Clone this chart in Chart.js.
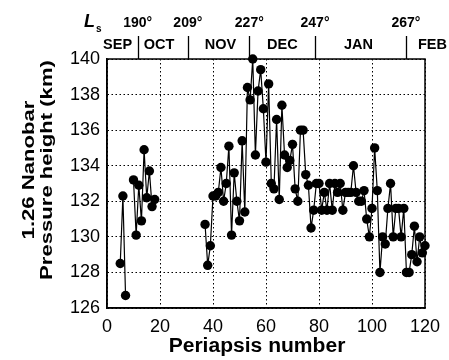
<!DOCTYPE html>
<html>
<head>
<meta charset="utf-8">
<script src="https://cdn.jsdelivr.net/npm/chart.js@4"></script>
<style>
  body { margin: 0; background: #fff; }
  #wrap { width: 449px; height: 360px; position: relative; }
</style>
</head>
<body>
<div id="wrap"><canvas id="myChart"></canvas></div>
<script>
// periapsis number / 1.26 nanobar pressure height (km); null = no data (breaks the line)
const periapsis = [5, 6, 7, 8,
  10, 11, 12, 13, 14, 15, 16, 17, 18, 19,
  37, 38, 39, 40, 41, 42, 43, 44, 45, 46, 47, 48, 49, 50, 51, 52, 53, 54, 55, 56,
  57, 58, 59, 60, 61, 62, 63, 64, 65, 66, 67, 68, 69, 70, 71, 72, 73, 74, 75, 76,
  77, 78, 79, 80, 81, 82, 83, 84, 85, 86, 87, 88, 89, 90, 91, 92, 93, 94, 95, 96,
  97, 98, 99, 100, 101, 102, 103, 104, 105, 106, 107, 108, 109, 110, 111, 112,
  113, 114, 115, 116, 117, 118, 119, 120];
const heights = [128.5, 132.3, 126.7, null,
  133.2, 130.1, 132.9, 130.9, 134.9, 132.2, 133.7, 131.7, 132.1, null,
  130.7, 128.4, 129.5, 132.3, 132.3, 132.5, 133.9, 132.0, 133.0, 135.1, 130.1, 133.6, 132.0, 130.9, 135.4, 131.4, 138.4, 137.7, 140.0, 134.6,
  138.2, 139.4, 137.2, 134.2, 138.6, 133.0, 132.7, 136.6, 132.1, 137.4, 134.6, 133.9, 134.3, 135.2, 132.7, 132.0, 136.0, 136.0, 133.5, 132.9,
  130.5, 131.5, 133.0, 133.0, 131.5, 132.5, 131.5, 133.0, 131.5, 133.0, 132.5, 133.0, 131.5, 132.5, 132.5, 132.5, 134.0, 132.5, 132.0, 132.0,
  132.6, 131.0, 130.0, 131.6, 135.0, 132.6, 128.0, 130.0, 129.6, 131.6, 133.0, 130.0, 131.6, 131.6, 130.0, 131.6,
  128.0, 128.0, 129.0, 130.6, 128.6, 130.0, 129.1, 129.5];

// top band: solar longitude at month boundaries, month names
const lsLabels = ['190°', '209°', '227°', '247°', '267°'];
const monthBounds = [11.6, 30.5, 53.7, 78.5, 112.8];
const monthNames = ['SEP', 'OCT', 'NOV', 'DEC', 'JAN', 'FEB'];
const monthCenters = [4.0, 19.6, 42.8, 66.2, 94.9, 122.8];

const xTitle = 'Periapsis number';
const yTitle = ['1.26 Nanobar', 'Pressure height (km)'];

const FONT = 'Liberation Sans, Arial, sans-serif';

const points = periapsis.map((p, i) => ({x: p, y: heights[i]}));

const decorations = {
  id: 'decorations',
  afterDraw(chart) {
    const ctx = chart.ctx;
    const area = chart.chartArea;
    const xs = chart.scales.x;
    ctx.save();
    // plot box
    ctx.strokeStyle = '#000';
    ctx.lineWidth = 1.5;
    ctx.strokeRect(area.left, area.top, area.right - area.left, area.bottom - area.top);

    // month separators
    ctx.lineWidth = 1.3;
    monthBounds.forEach(b => {
      const px = Math.round(xs.getPixelForValue(b)) + 0.5;
      ctx.beginPath();
      ctx.moveTo(px, 36);
      ctx.lineTo(px, area.top);
      ctx.stroke();
    });

    ctx.fillStyle = '#000';
    ctx.textAlign = 'center';
    ctx.textBaseline = 'middle';
    ctx.font = 'bold 14px ' + FONT;
    lsLabels.forEach((t, i) => {
      ctx.fillText(t, xs.getPixelForValue(monthBounds[i]), 23);
    });
    ctx.font = 'bold 14.5px ' + FONT;
    monthNames.forEach((t, i) => {
      ctx.fillText(t, xs.getPixelForValue(monthCenters[i]), 45);
    });

    // L with subscript s
    ctx.textAlign = 'left';
    ctx.font = 'italic bold 18px ' + FONT;
    ctx.fillText('L', 84, 22);
    ctx.font = 'bold 10px ' + FONT;
    ctx.fillText('s', 96, 29);

    // x title (stretched like the scanned original)
    ctx.save();
    ctx.translate(257, 347);
    ctx.scale(1.08, 1);
    ctx.textAlign = 'center';
    ctx.font = 'bold 19.5px ' + FONT;
    ctx.fillText(xTitle, 0, 0);
    ctx.restore();

    // y title, two lines
    ctx.save();
    ctx.textAlign = 'center';
    ctx.font = 'bold 17px ' + FONT;
    [29, 47.5].forEach((cx, i) => {
      ctx.save();
      ctx.translate(cx, 170);
      ctx.rotate(-Math.PI / 2);
      ctx.scale(1.3, 1);
      ctx.fillText(yTitle[i], 0, 0);
      ctx.restore();
    });
    ctx.restore();
    ctx.restore();
  }
};

const ctx = document.getElementById('myChart').getContext('2d');
const myChart = new Chart(ctx, {
  type: 'line',
  data: {
    datasets: [{
      data: points,
      borderColor: '#000',
      borderWidth: 1.2,
      backgroundColor: '#000',
      pointBackgroundColor: '#000',
      pointBorderColor: '#000',
      pointRadius: 4.7,
      pointBorderWidth: 0,
      spanGaps: false,
      tension: 0,
      clip: false
    }]
  },
  options: {
    responsive: true,
    maintainAspectRatio: false,
    animation: false,
    layout: { padding: { top: 59, right: 24, left: 0, bottom: 0 } },
    plugins: { legend: { display: false }, tooltip: { enabled: false } },
    scales: {
      x: {
        type: 'linear',
        min: 0,
        max: 120,
        afterFit: s => { s.height = 52; },
        ticks: { stepSize: 20, autoSkip: false, maxRotation: 0, padding: 8, color: '#000', font: { family: FONT, size: 18 } },
        grid: { color: '#000', lineWidth: 1, drawTicks: false },
        border: { display: true, color: '#000', width: 1.5, dash: [1.5, 2.5] }
      },
      y: {
        min: 126,
        max: 140,
        afterFit: s => { s.width = 107; },
        ticks: { stepSize: 2, autoSkip: false, padding: 7, color: '#000', font: { family: FONT, size: 18 } },
        grid: { color: '#000', lineWidth: 1, drawTicks: false },
        border: { display: true, color: '#000', width: 1.5, dash: [1.5, 2.5] }
      }
    }
  },
  plugins: [decorations]
});
</script>
</body>
</html>
